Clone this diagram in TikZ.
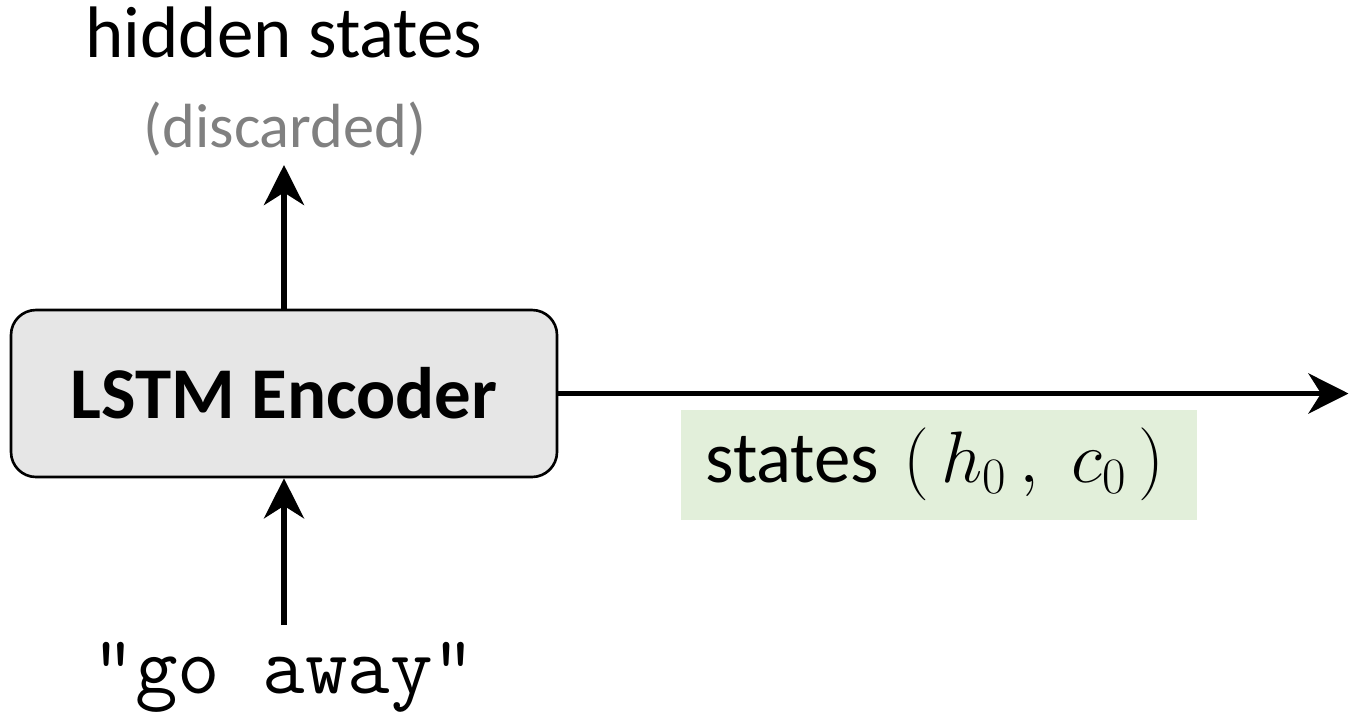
\documentclass[tikz,border=0pt]{standalone}
\usepackage{fix-cm}
\usepackage{fontspec}
\setmainfont{Carlito}
\usepackage{xcolor}
\usepackage{tikz}
\usetikzlibrary{positioning,calc,arrows.meta}

\definecolor{encgray}{HTML}{E6E6E6}
\definecolor{stategreen}{HTML}{E2EFDA}
\definecolor{notegray}{HTML}{808080}

\tikzset{
    encoder/.style={draw, line width=1.5pt, rounded corners=0.5cm, fill=encgray,
        minimum width=10.92cm, minimum height=3.34cm, font=\fontsize{41.5}{50}\selectfont\bfseries},
    bigtext/.style={font=\fontsize{41.5}{50}\selectfont},
    flow/.style={line width=0.115cm, -{Stealth[length=0.8cm, width=0.8cm, inset=0.25cm]}},
}

\begin{document}
\begin{tikzpicture}
    \useasboundingbox (0,0) rectangle (27,14.42);

    \node[encoder] (enc) at (5.68,6.55) {LSTM Encoder};

    % outputs on top
    \node[bigtext, anchor=base] (hid) at (5.68,13.26) {hidden states};
    \node[font=\fontsize{35.5}{42}\selectfont, text=notegray, anchor=base] (disc) at (5.70,11.48) {(discarded)};
    \coordinate (up) at (5.68,11.12);
    \draw[flow] (enc.north) -- (up);

    % input at the bottom
    \node[font=\fontsize{47}{56}\selectfont\ttfamily, anchor=base] (inp) at (5.68,0.56) {"go away"};
    \coordinate (in) at (5.68,1.92);
    \draw[flow] (in) -- (enc.south);

    % states passed on
    \coordinate (out) at (26.97,6.55);
    \draw[flow] (enc.east) -- (out);
    \node[bigtext, fill=stategreen, anchor=south west, minimum height=2.2cm,
        text width=9.36cm, inner xsep=0.48cm, align=left] (st) at (13.62,4.02) {states~$(\,h_0\,,\;c_0\,)$};
\end{tikzpicture}
\end{document}
